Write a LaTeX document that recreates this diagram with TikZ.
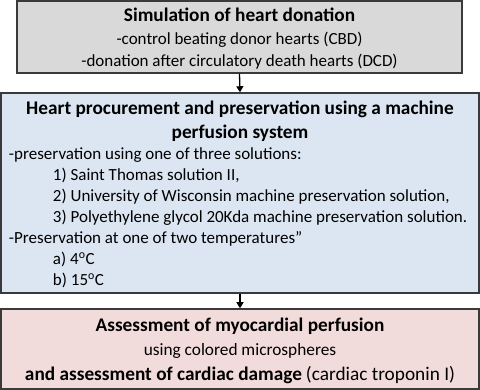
\documentclass[tikz,border=0pt]{standalone}
\usepackage{fontspec}
\setmainfont{Carlito}
\usetikzlibrary{arrows.meta}
\definecolor{boxgray}{HTML}{D9D9D9}
\definecolor{boxblue}{HTML}{DCE6F2}
\definecolor{boxpink}{HTML}{F2DCDB}
\definecolor{edgec}{HTML}{3A3A3A}
\tikzset{
  flowbox/.style={draw=edgec, line width=1.5pt, rectangle, inner sep=0pt, align=center},
  flowarrow/.style={-{Triangle[length=6pt,width=7pt]}, line width=1.3pt, black},
}
\newcommand{\titlefont}{\fontsize{19.3}{24}\selectfont\bfseries}
\newcommand{\bodyfont}{\fontsize{17}{21}\selectfont\mdseries}
\begin{document}
\begin{tikzpicture}[x=1pt,y=-1pt]
\useasboundingbox (0,0) rectangle (480,390);
\node[flowbox, fill=boxgray, minimum width=445pt, minimum height=72pt] (sim) at (239.5,37)
  {\parbox{440pt}{\vspace*{4pt}\centering\fontsize{17}{22.5}\selectfont
   {\titlefont Simulation of heart donation}\\
   -control beating donor hearts (CBD)\\
   -donation after circulatory death hearts (DCD)\par}};
\node[flowbox, fill=boxblue, minimum width=478pt, minimum height=200pt] (proc) at (240,193)
  {\parbox{462pt}{\vspace*{3pt}\centering{\titlefont Heart procurement and preservation using a machine\\ perfusion system\par}
   \raggedright{\bodyfont -preservation using one of three solutions:\\
   \hspace*{44pt}1) Saint Thomas solution II,\\
   \hspace*{44pt}2) University of Wisconsin machine preservation solution,\\
   \hspace*{44pt}3) Polyethylene glycol 20Kda machine preservation solution.\\
   -Preservation at one of two temperatures”\\
   \hspace*{44pt}a) 4\textsuperscript{o}C\\
   \hspace*{44pt}b) 15\textsuperscript{o}C\par}}};
\node[flowbox, fill=boxpink, minimum width=478pt, minimum height=80pt] (assess) at (240,349)
  {\parbox{474pt}{\vspace*{3pt}\centering\fontsize{17.3}{24.5}\selectfont
   {\titlefont Assessment of myocardial perfusion}\\
   using colored microspheres\\
   {\titlefont and assessment of cardiac damage} {\fontsize{19.3}{24.5}\selectfont (cardiac troponin I)}\par}};
\draw[flowarrow] (sim.south) -- (proc.north);
\draw[flowarrow] (proc.south) -- (assess.north);
\end{tikzpicture}
\end{document}
